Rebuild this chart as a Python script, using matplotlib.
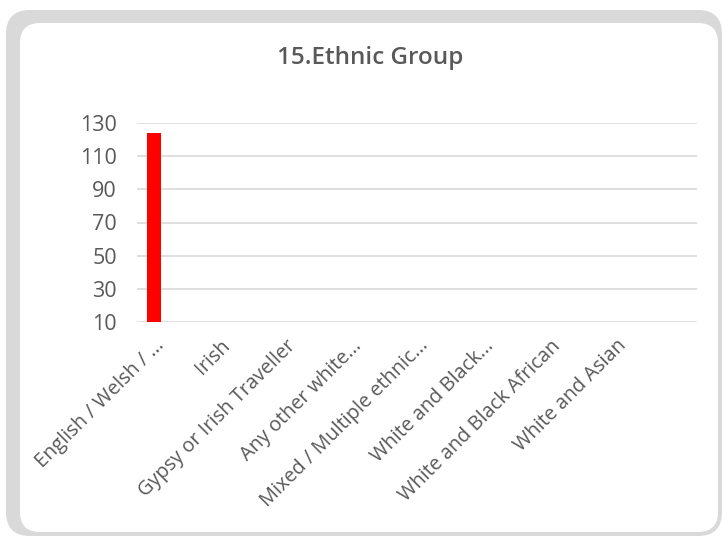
import matplotlib
matplotlib.use("Agg")
import matplotlib.pyplot as plt
from matplotlib.patches import FancyBboxPatch

# Data
categories = [
    "English / Welsh / ...",
    "Irish",
    "Gypsy or Irish Traveller",
    "Any other white...",
    "Mixed / Multiple ethnic...",
    "White and Black...",
    "White and Black African",
    "White and Asian",
]
counts = [124, 0, 0, 0, 0, 0, 0, 0]
y_ticks = [10, 30, 50, 70, 90, 110, 130]
title = "15.Ethnic Group"

TEXT = "#595959"
GRID = "#d9d9d9"
BAR = "#ff0000"
FONT = "Open Sans"

W, H = 722, 536
fig = plt.figure(figsize=(W / 100, H / 100), dpi=100)
fig.patch.set_facecolor("white")

# Card frame: grey border with a rounded white panel on top
def px_box(x0, y0, x1, y1, r, color, z):
    box = FancyBboxPatch(
        (x0 / W, 1 - y1 / H), (x1 - x0) / W, (y1 - y0) / H,
        boxstyle=f"round,pad=0,rounding_size={r / W}",
        transform=fig.transFigure, facecolor=color, edgecolor="none",
        zorder=z, mutation_aspect=W / H,
    )
    fig.patches.append(box)

px_box(6, 10, 722, 536, 24, "#d9d9d9", 0)
px_box(20, 23, 718, 532, 20, "white", 1)

ax = fig.add_axes([137 / W, 1 - 322 / H, (697 - 137) / W, (322 - 123) / H])
ax.set_facecolor("none")
ax.set_zorder(2)

x = list(range(len(categories)))
ax.bar(x, counts, width=0.21, color=BAR, zorder=3)

# category slots are 66 px wide; first slot centred at 154 px
ax.set_xlim(-17 / 66, 543 / 66)
ax.set_ylim(y_ticks[0], y_ticks[-1])
ax.set_yticks(y_ticks)
ax.grid(axis="y", color=GRID, linewidth=1.2, zorder=1)
ax.set_axisbelow(True)
for s in ax.spines.values():
    s.set_visible(False)

ax.tick_params(axis="both", length=0, colors=TEXT)
ax.tick_params(axis="y", pad=14.5, labelsize=15.5)
for lbl in ax.get_yticklabels():
    lbl.set_fontfamily(FONT)

ax.set_xticks(x)
ax.set_xticklabels(categories, rotation=45, ha="right", va="top",
                   rotation_mode="anchor", fontsize=14.3, fontfamily=FONT,
                   color=TEXT)
ax.tick_params(axis="x", pad=10)

fig.text(370 / W, 1 - 58 / H, title, ha="center", va="center",
         fontsize=17.5, fontfamily=FONT, fontweight=600, color=TEXT,
         zorder=3)

fig.savefig("out.png", dpi=100)
